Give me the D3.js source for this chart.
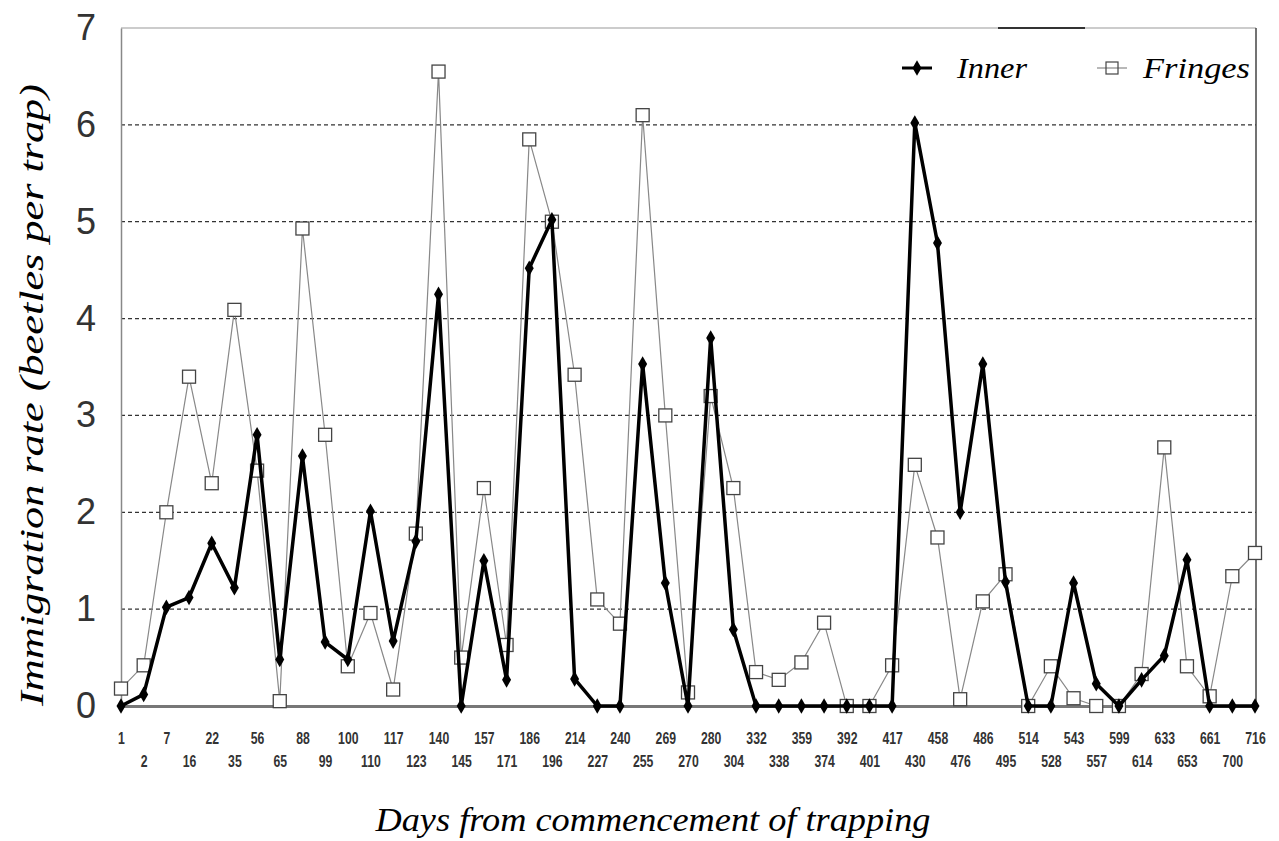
<!DOCTYPE html>
<html>
<head>
<meta charset="utf-8">
<script src="https://cdn.jsdelivr.net/npm/d3@7"></script>
<style>
  body { margin: 0; background: #fff; }
</style>
</head>
<body>
<div id="chart"></div>
<script>
// days (x categories)
const days = [1, 2, 7, 16, 22, 35, 56, 65, 88, 99,
  100, 110, 117, 123, 140, 145, 157, 171, 186, 196,
  214, 227, 240, 255, 269, 270, 280, 304, 332, 338,
  359, 374, 392, 401, 417, 430, 458, 476, 486, 495,
  514, 528, 543, 557, 599, 614, 633, 653, 661, 700, 716];

const inner = [0, 0.12, 1.02, 1.12, 1.68, 1.22, 2.8, 0.48, 2.58, 0.66,
  0.48, 2.01, 0.67, 1.7, 4.25, 0, 1.5, 0.27, 4.52, 5.02,
  0.28, 0, 0, 3.53, 1.27, 0, 3.8, 0.79, 0, 0,
  0, 0, 0, 0, 0, 6.02, 4.78, 2.0, 3.53, 1.28,
  0, 0, 1.27, 0.23, 0, 0.27, 0.52, 1.51, 0, 0, 0];

const fringes = [0.18, 0.42, 2.0, 3.4, 2.3, 4.09, 2.43, 0.05, 4.93, 2.8,
  0.41, 0.96, 0.17, 1.78, 6.55, 0.5, 2.25, 0.63, 5.85, 5.0,
  3.42, 1.1, 0.85, 6.1, 3.0, 0.14, 3.2, 2.25, 0.35, 0.27,
  0.45, 0.86, 0, 0, 0.42, 2.49, 1.74, 0.07, 1.08, 1.36,
  0, 0.41, 0.08, 0, 0, 0.33, 2.67, 0.41, 0.1, 1.34, 1.58];

const yTicks = [0, 1, 2, 3, 4, 5, 6, 7];

const margin = { top: 28, right: 23, bottom: 135, left: 121 },
  width = 1279 - margin.left - margin.right,
  height = 841 - margin.top - margin.bottom;

const svg = d3.select("#chart")
  .append("svg")
  .attr("width", 1279)
  .attr("height", 841)
  .append("g")
  .attr("transform", `translate(${margin.left},${margin.top})`);

const x = d3.scalePoint()
  .domain(days)
  .range([0, width - 1]);

const y = d3.scaleLinear()
  .domain([0, 7])
  .range([height, 0]);

// dashed grid lines
svg.append("g")
  .selectAll("line")
  .data(yTicks.filter(d => d > 0 && d < 7))
  .join("line")
  .attr("x1", 0)
  .attr("x2", width)
  .attr("y1", d => y(d))
  .attr("y2", d => y(d))
  .attr("stroke", "#333")
  .attr("stroke-width", 1.2)
  .attr("stroke-dasharray", "4,3");

// frame
svg.append("line")
  .attr("x1", 0).attr("x2", width)
  .attr("y1", 0).attr("y2", 0)
  .attr("stroke", "#999").attr("stroke-width", 1.2);
svg.append("line")
  .attr("x1", 877).attr("x2", 964)
  .attr("y1", 0).attr("y2", 0)
  .attr("stroke", "#333").attr("stroke-width", 2);
svg.append("line")
  .attr("x1", width).attr("x2", width)
  .attr("y1", 0).attr("y2", height)
  .attr("stroke", "#444").attr("stroke-width", 1.5);

// y axis
const yAxis = svg.append("g")
  .call(d3.axisLeft(y).tickValues(yTicks).tickFormat(d3.format("d")).tickSize(0).tickPadding(35));
yAxis.select(".domain").attr("stroke", "#888").attr("stroke-width", 1.5);
yAxis.selectAll("text")
  .attr("text-anchor", "middle")
  .style("font-family", "'Liberation Sans', Arial, sans-serif")
  .style("font-size", "36px")
  .style("fill", "#333");

// x axis, labels alternate between two rows
const xAxis = svg.append("g")
  .attr("transform", `translate(0,${height})`)
  .call(d3.axisBottom(x).tickSize(0).tickPadding(0));
xAxis.select(".domain").attr("stroke", "#777").attr("stroke-width", 3);
xAxis.selectAll("text")
  .attr("y", 0)
  .attr("dy", 0)
  .attr("transform", (d, i) => `translate(0,${i % 2 === 0 ? 38 : 61})scale(0.72,1)`)
  .style("font-family", "'Liberation Sans', Arial, sans-serif")
  .style("font-size", "17px")
  .style("font-weight", "bold")
  .style("fill", "#333");

// Fringes series
svg.append("path")
  .datum(fringes)
  .attr("fill", "none")
  .attr("stroke", "#888")
  .attr("stroke-width", 1.2)
  .attr("d", d3.line().x((d, i) => x(days[i])).y(d => y(d)));

svg.append("g")
  .selectAll("rect")
  .data(fringes)
  .join("rect")
  .attr("x", (d, i) => x(days[i]) - 6.5)
  .attr("y", d => y(d) - 6.5)
  .attr("width", 13)
  .attr("height", 13)
  .attr("fill", "#fff")
  .attr("stroke", "#444")
  .attr("stroke-width", 1.3);

// Inner series
svg.append("path")
  .datum(inner)
  .attr("fill", "none")
  .attr("stroke", "#000")
  .attr("stroke-width", 3.5)
  .attr("stroke-linejoin", "round")
  .attr("d", d3.line().x((d, i) => x(days[i])).y(d => y(d)));

const diamond = d3.symbol().type(d3.symbolDiamond).size(70);

svg.append("g")
  .selectAll("path")
  .data(inner)
  .join("path")
  .attr("transform", (d, i) => `translate(${x(days[i])},${y(d)})`)
  .attr("d", diamond)
  .attr("fill", "#000");

// Legend
const legend = svg.append("g")
  .attr("transform", `translate(0,40)`);

legend.append("line")
  .attr("x1", 781).attr("x2", 811)
  .attr("stroke", "#000").attr("stroke-width", 3);
legend.append("path")
  .attr("transform", "translate(796,0)")
  .attr("d", diamond)
  .attr("fill", "#000");
legend.append("text")
  .attr("x", 836)
  .attr("y", 10)
  .style("font-family", "'Liberation Serif', 'Times New Roman', serif")
  .style("font-style", "italic")
  .style("font-size", "30px")
  .attr("textLength", 70)
  .attr("lengthAdjust", "spacingAndGlyphs")
  .text("Inner");

legend.append("line")
  .attr("x1", 976).attr("x2", 1006)
  .attr("stroke", "#888").attr("stroke-width", 1.2);
legend.append("rect")
  .attr("x", 985).attr("y", -6)
  .attr("width", 12).attr("height", 12)
  .attr("fill", "none")
  .attr("stroke", "#444").attr("stroke-width", 1.2);
legend.append("text")
  .attr("x", 1022)
  .attr("y", 10)
  .style("font-family", "'Liberation Serif', 'Times New Roman', serif")
  .style("font-style", "italic")
  .style("font-size", "30px")
  .attr("textLength", 107)
  .attr("lengthAdjust", "spacingAndGlyphs")
  .text("Fringes");

// Y axis title
svg.append("text")
  .attr("text-anchor", "middle")
  .attr("transform", `translate(${-78},${367})rotate(-90)`)
  .style("font-family", "'Liberation Serif', 'Times New Roman', serif")
  .style("font-style", "italic")
  .style("font-size", "33px")
  .attr("textLength", 622)
  .attr("lengthAdjust", "spacingAndGlyphs")
  .text("Immigration rate (beetles per trap)");

// X axis title
svg.append("text")
  .attr("text-anchor", "middle")
  .attr("x", 532)
  .attr("y", height + 125)
  .style("font-family", "'Liberation Serif', 'Times New Roman', serif")
  .style("font-style", "italic")
  .style("font-size", "33px")
  .attr("textLength", 555)
  .attr("lengthAdjust", "spacingAndGlyphs")
  .text("Days from commencement of trapping");
</script>
</body>
</html>
